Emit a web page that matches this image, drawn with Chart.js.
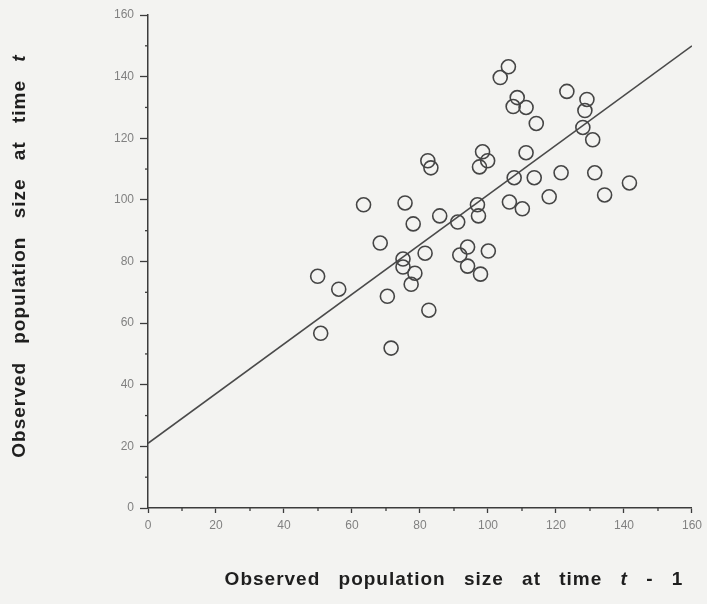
<!DOCTYPE html>
<html>
<head>
<meta charset="utf-8">
<script src="https://cdn.jsdelivr.net/npm/chart.js@4.4.1/dist/chart.umd.min.js"></script>
<style>
  html, body { margin: 0; padding: 0; background: #f3f3f1; }
  #wrap { width: 707px; height: 604px; }
</style>
</head>
<body>
<div id="wrap"><canvas id="chart" width="707" height="604"></canvas></div>
<script>
// observed population size at time t-1 (x) and at time t (y)
const prevSize = [
    106.0, 103.6, 108.6, 107.4, 111.2, 123.2, 129.1, 128.5, 114.2, 127.9,
    130.8, 98.4, 99.9, 97.5, 111.2, 107.7, 113.6, 121.5, 131.4, 141.6,
    118.0, 134.3, 106.3, 110.1, 96.9, 97.2, 82.3, 83.2, 63.4, 75.6,
    85.8, 78.0, 91.1, 68.3, 94.0, 100.1, 91.7, 94.0, 97.8, 81.5,
    75.0, 75.0, 78.5, 77.4, 49.9, 56.1, 70.4, 82.6, 50.8, 71.5
];
const currSize = [
    143.2, 139.7, 133.2, 130.3, 130.0, 135.2, 132.6, 129.0, 124.8, 123.5,
    119.5, 115.6, 112.7, 110.7, 115.3, 107.2, 107.2, 108.8, 108.8, 105.5,
    101.0, 101.6, 99.3, 97.1, 98.4, 94.8, 112.7, 110.4, 98.4, 99.0,
    94.8, 92.2, 92.8, 86.0, 84.7, 83.4, 82.1, 78.5, 75.9, 82.7,
    80.8, 78.2, 76.2, 72.6, 75.2, 71.0, 68.7, 64.2, 56.7, 51.9
];
// fitted line end points
const fitX = [0, 160];
const fitY = [21, 150];

const majorTicks = [0, 20, 40, 60, 80, 100, 120, 140, 160];
const minorTicks = [10, 30, 50, 70, 90, 110, 130, 150];

const xTitle = ['Observed population size at time ', 't', ' - 1'];
const yTitle = ['Observed population size at time ', 't'];

const points = prevSize.map((x, i) => ({ x, y: currSize[i] }));
const fitLine = fitX.map((x, i) => ({ x, y: fitY[i] }));

const ink = '#3c3c3c';
const labelGrey = '#818181';
const family = '"Liberation Sans", Arial, Helvetica, sans-serif';

const paperPlugin = {
    id: 'paper',
    beforeDraw(chart) {
        const ctx = chart.ctx;
        ctx.save();
        ctx.fillStyle = '#f3f3f1';
        ctx.fillRect(0, 0, chart.width, chart.height);
        ctx.restore();
    }
};

// short minor ticks and the two axis titles (italic t)
const axisExtras = {
    id: 'axisExtras',
    afterDraw(chart) {
        const ctx = chart.ctx;
        const xs = chart.scales.x, ys = chart.scales.y;
        ctx.save();
        ctx.strokeStyle = ink;
        ctx.lineWidth = 1.3;
        minorTicks.forEach(v => {
            const px = xs.getPixelForValue(v);
            ctx.beginPath();
            ctx.moveTo(px, xs.top);
            ctx.lineTo(px, xs.top + 3);
            ctx.stroke();
            const py = ys.getPixelForValue(v);
            ctx.beginPath();
            ctx.moveTo(ys.right, py);
            ctx.lineTo(ys.right - 3, py);
            ctx.stroke();
        });

        const fonts = ['bold 19px ' + family, 'italic bold 19px ' + family, 'bold 19px ' + family];
        ctx.fillStyle = '#1e1e1e';
        ctx.textBaseline = 'middle';
        ctx.textAlign = 'left';
        ctx.letterSpacing = '1px';
        ctx.wordSpacing = '12px';

        const drawParts = (parts, cx, cy) => {
            let total = 0;
            const widths = parts.map((p, i) => {
                ctx.font = fonts[i];
                const w = ctx.measureText(p).width;
                total += w;
                return w;
            });
            let x = cx - total / 2;
            parts.forEach((p, i) => {
                ctx.font = fonts[i];
                ctx.fillText(p, x, cy);
                x += widths[i];
            });
        };

        drawParts(xTitle, 454, 580);

        ctx.translate(20, 256);
        ctx.rotate(-Math.PI / 2);
        drawParts(yTitle, 0, 0);
        ctx.restore();
    }
};

new Chart(document.getElementById('chart'), {
    type: 'scatter',
    data: {
        datasets: [
            {
                data: points,
                pointStyle: 'circle',
                pointRadius: 7,
                pointHoverRadius: 7,
                pointBorderWidth: 1.6,
                borderColor: '#454545',
                backgroundColor: 'rgba(0,0,0,0)'
            },
            {
                data: fitLine,
                showLine: true,
                pointRadius: 0,
                borderColor: '#4a4a4a',
                borderWidth: 1.6
            }
        ]
    },
    options: {
        responsive: false,
        devicePixelRatio: 1,
        animation: false,
        layout: { padding: { left: 0, right: 11, top: 15, bottom: 0 } },
        plugins: { legend: { display: false }, tooltip: { enabled: false } },
        scales: {
            x: {
                type: 'linear',
                min: 0,
                max: 160,
                afterFit: s => { s.height = 96; },
                afterBuildTicks: s => { s.ticks = majorTicks.map(v => ({ value: v })); },
                border: { display: true, color: ink, width: 1.5 },
                grid: { display: true, drawOnChartArea: false, drawTicks: true, tickLength: 5, tickColor: ink, tickWidth: 1.3 },
                ticks: { color: labelGrey, font: { family, size: 12 }, padding: 5, maxRotation: 0 }
            },
            y: {
                type: 'linear',
                min: 0,
                max: 160,
                afterFit: s => { s.width = 148; },
                afterBuildTicks: s => { s.ticks = majorTicks.map(v => ({ value: v })); },
                border: { display: true, color: ink, width: 1.5 },
                grid: { display: true, drawOnChartArea: false, drawTicks: true, tickLength: 8, tickColor: ink, tickWidth: 1.3 },
                ticks: { color: labelGrey, font: { family, size: 12 }, padding: 6 }
            }
        }
    },
    plugins: [paperPlugin, axisExtras]
});
</script>
</body>
</html>
